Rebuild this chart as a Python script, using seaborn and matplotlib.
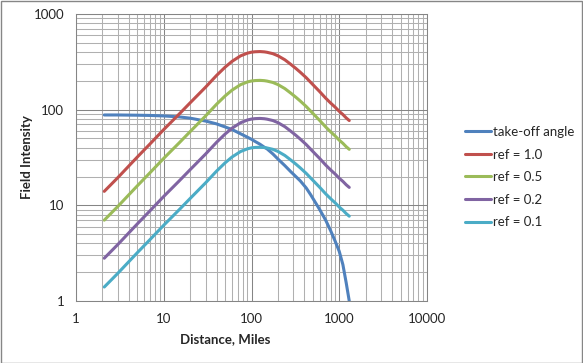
import matplotlib
matplotlib.use("Agg")
import matplotlib.pyplot as plt
import seaborn as sns
import pandas as pd
from matplotlib.patches import Rectangle

# Distance (miles) sample points
distance = [2.1, 3, 5, 7, 10, 15, 20, 30, 40, 50, 60, 75, 90, 100, 110, 125, 140,
            150, 175, 200, 240, 280, 320, 360, 420, 470, 600, 700, 800, 900, 1000,
            1100, 1200, 1300]

takeoff_angle = [88, 88, 87.5, 87, 86, 84, 81.5, 76, 71, 66, 62, 56, 51.5, 49, 46.5,
                 43.5, 40.5, 39, 34.5, 30.5, 26, 22.5, 20, 18, 15.2, 13, 9, 7, 5.4,
                 4.2, 3.3, 2.4, 1.55, 1.0]
ref_10 = [14, 19.5, 32, 44, 62, 90, 118, 172, 228, 278, 320, 365, 390, 399, 403,
          405, 402, 398, 385, 366, 332, 298, 270, 246, 216, 194, 154, 132, 117,
          106, 96, 89, 82, 77]
ref_05 = [7, 9.75, 16, 22, 31, 45, 59, 86, 114, 139, 160, 182.5, 195, 199.5, 201.5,
          202.5, 201, 199, 192.5, 183, 166, 149, 135, 123, 108, 97, 77, 66, 58.5,
          53, 48, 44.5, 41, 38.5]
ref_02 = [2.8, 3.9, 6.4, 8.8, 12.4, 18, 23.6, 34.4, 45.6, 55.6, 64, 73, 78, 79.8,
          80.6, 81, 80.4, 79.6, 77, 73.2, 66.4, 59.6, 54, 49.2, 43.2, 38.8, 30.8,
          26.4, 23.4, 21.2, 19.2, 17.8, 16.4, 15.4]
ref_01 = [1.4, 1.95, 3.2, 4.4, 6.2, 9, 11.8, 17.2, 22.8, 27.8, 32, 36.5, 39, 39.9,
          40.3, 40.5, 40.2, 39.8, 38.5, 36.6, 33.2, 29.8, 27, 24.6, 21.6, 19.4,
          15.4, 13.2, 11.7, 10.6, 9.6, 8.9, 8.2, 7.7]

series_names = ["take-off angle", "ref = 1.0", "ref = 0.5", "ref = 0.2", "ref = 0.1"]
series_values = [takeoff_angle, ref_10, ref_05, ref_02, ref_01]
colors = ["#4F81BD", "#C0504D", "#9BBB59", "#8064A2", "#4BACC6"]

x_ticks = [1, 10, 100, 1000, 10000]
x_tick_labels = ["1", "10", "100", "1000", "10000"]
y_ticks = [1, 10, 100, 1000]
y_tick_labels = ["1", "10", "100", "1000"]

sns.set_style("white")
plt.rcParams["font.family"] = ["Lato", "DejaVu Sans"]

W, H = 583, 363
fig = plt.figure(figsize=(W / 100, H / 100), dpi=100)
ax = fig.add_axes([76 / W, 1 - 301 / H, 351 / W, 287 / H])

df = pd.concat(
    [pd.DataFrame({"distance": distance, "value": vals, "series": name})
     for name, vals in zip(series_names, series_values)],
    ignore_index=True,
)
sns.lineplot(data=df, x="distance", y="value", hue="series", hue_order=series_names,
             palette=colors, linewidth=2.2, sort=False, estimator=None, ax=ax)

ax.set_xscale("log")
ax.set_yscale("log")
ax.set_xlim(1, 10000)
ax.set_ylim(1, 1000)

ax.grid(which="major", color="#858585", linewidth=0.75)
ax.grid(which="minor", color="#b0b0b0", linewidth=0.75)
ax.set_axisbelow(True)
for s in ax.spines.values():
    s.set_color("#858585")
    s.set_linewidth(0.75)

ax.set_xticks(x_ticks, x_tick_labels)
ax.set_yticks(y_ticks, y_tick_labels)
ax.tick_params(which="major", direction="out", length=3.5, width=0.75,
               color="#858585", labelsize=9.5, pad=5)
ax.tick_params(which="minor", length=0, labelleft=False, labelbottom=False)

ax.set_xlabel("Distance, Miles", fontsize=9.5, fontweight="bold")
ax.set_ylabel("Field Intensity", fontsize=9.5, fontweight="bold")
ax.xaxis.set_label_coords((225 - 76) / 351, (301 - 339) / 287)
ax.xaxis.label.set_va("center")
ax.yaxis.set_label_coords((27 - 76) / 351, (301 - 157) / 287)
ax.yaxis.label.set_va("center")

leg = ax.legend(loc="upper left", bbox_to_anchor=(465 / W, 1 - 126 / H),
                bbox_transform=fig.transFigure, frameon=False, fontsize=9.5,
                handlelength=2.0, handletextpad=0.15, labelspacing=0.8,
                borderpad=0, borderaxespad=0)
for line in leg.get_lines():
    line.set_linewidth(2.2)

fig.patches.append(Rectangle((0.5 / W, 0.5 / H), 1 - 1.5 / W, 1 - 1.5 / H,
                             transform=fig.transFigure, fill=False,
                             edgecolor="#868686", linewidth=1.0))

fig.savefig("out.png", dpi=100)
